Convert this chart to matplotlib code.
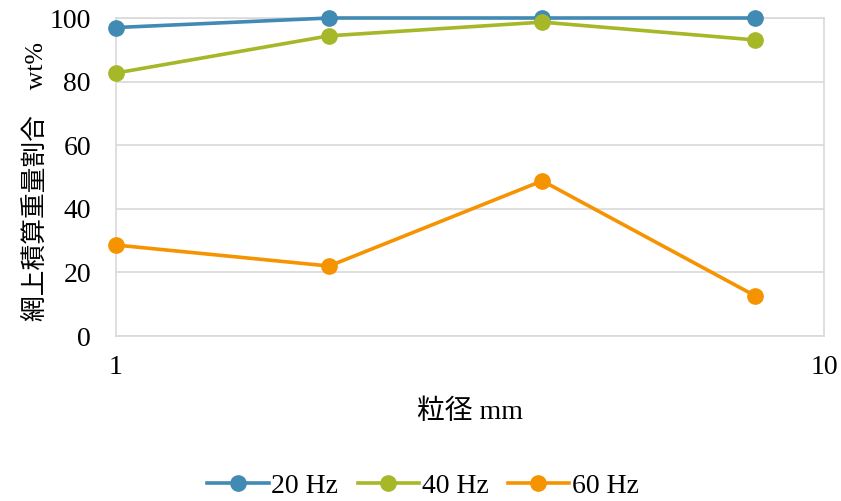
import matplotlib
matplotlib.use("Agg")
import matplotlib.pyplot as plt
from matplotlib.ticker import FixedLocator, NullLocator, FixedFormatter

plt.rcParams['font.family'] = ['Liberation Serif', 'Noto Sans CJK JP']

sizes_mm = [1, 2, 4, 8]
hz20 = [97.0, 100.0, 100.0, 100.0]
hz40 = [82.7, 94.4, 98.7, 93.1]
hz60 = [28.6, 22.0, 48.8, 12.6]
series_labels = ["20 Hz", "40 Hz", "60 Hz"]
colors = ["#418AB3", "#A6B727", "#F59300"]
x_ticks = [1, 10]
y_ticks = [0, 20, 40, 60, 80, 100]

fig = plt.figure(figsize=(8.41, 5.01), dpi=100)
ax = fig.add_axes([116/841, 1 - 336/501, (824-116)/841, (336-18)/501])

for vals, lab, c in zip([hz20, hz40, hz60], series_labels, colors):
    ax.plot(sizes_mm, vals, color=c, lw=2.6, marker='o', ms=11, label=lab,
            solid_joinstyle='round', zorder=3, clip_on=False)

ax.set_xscale('log')
ax.set_xlim(1, 10)
ax.set_ylim(0, 100)
ax.xaxis.set_major_locator(FixedLocator(x_ticks))
ax.xaxis.set_major_formatter(FixedFormatter([str(t) for t in x_ticks]))
ax.xaxis.set_minor_locator(NullLocator())
ax.set_yticks(y_ticks)
ax.grid(axis='y', color='#d9d9d9', lw=1.2, zorder=0)
for s in ax.spines.values():
    s.set_color('#d9d9d9')
    s.set_linewidth(1.2)
ax.tick_params(axis='both', length=0, labelsize=20, colors='black')
ax.tick_params(axis='x', pad=14)
ax.tick_params(axis='y', pad=18)

ax.set_xlabel("粒径 mm", fontsize=20, labelpad=14)
ax.set_ylabel("網上積算重量割合　wt%", fontsize=18.5, va='center')
ax.yaxis.set_label_coords(-0.113, 0.485)

fig.legend(loc='center', bbox_to_anchor=(423/841, 1 - 486/501), ncol=3,
           frameon=False, fontsize=20, handlelength=2.2, handletextpad=0.1,
           columnspacing=0.7)

fig.savefig("out.png", dpi=100)
